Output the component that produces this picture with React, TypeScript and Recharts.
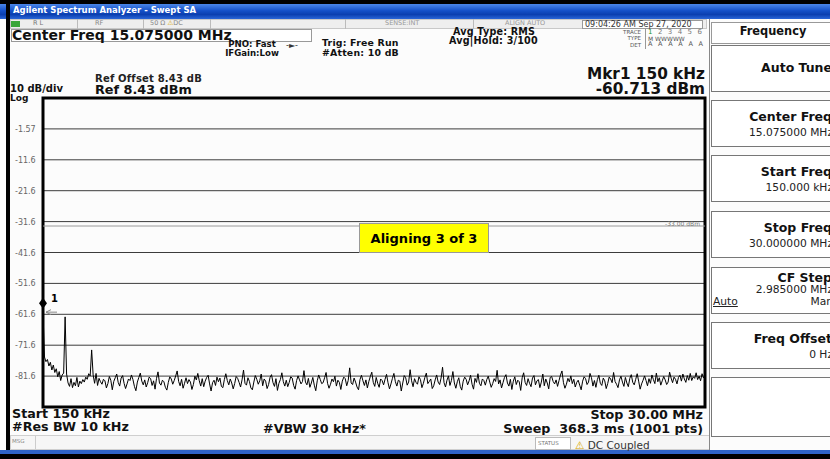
import React from "react";
import {
  LineChart,
  Line,
  XAxis,
  YAxis,
  CartesianGrid,
  ReferenceLine,
  ReferenceDot,
  ReferenceArea,
} from "recharts";

// Swept SA trace, 150 kHz .. 30 MHz (dBm)
const traceDbm = [
  -60.7, -75.4, -76.9, -76.2, -78.3, -77.1, -79.6, -78.0, -80.4, -79.2,
  -81.8, -80.1, -83.0, -81.2, -80.6, -62.4, -80.9, -83.8, -84.9, -82.4,
  -85.3, -83.6, -84.7, -82.0, -85.1, -83.2, -84.0, -82.7, -83.5, -81.9,
  -82.6, -80.8, -81.5, -73.1, -81.2, -83.9, -80.7, -84.6, -82.3, -83.4,
  -84.2, -82.6, -83.1, -85.4, -84.0, -81.7, -82.9, -86.0, -83.3, -82.1,
  -80.9, -83.6, -84.8, -82.2, -81.4, -83.9, -85.6, -84.1, -82.5, -83.0,
  -81.2, -82.7, -84.9, -86.3, -83.5, -82.0, -80.6, -83.2, -84.4, -82.8,
  -85.1, -83.7, -81.9, -82.4, -84.6, -83.1, -85.8, -82.3, -80.2, -83.8,
  -84.5, -82.9, -83.4, -85.2, -86.1, -83.6, -81.8, -82.5, -84.2, -83.0,
  -81.5, -79.9, -83.3, -84.7, -82.6, -85.5, -83.9, -82.1, -84.0, -82.7,
  -83.5, -85.9, -84.3, -81.6, -82.8, -80.7, -83.1, -84.8, -82.4, -85.0,
  -83.2, -82.0, -81.3, -84.1, -86.4, -83.7, -82.9, -84.6, -81.9, -83.4,
  -82.2, -84.9, -85.3, -82.7, -80.8, -83.0, -84.4, -82.5, -83.8, -85.7,
  -84.0, -81.7, -82.3, -83.6, -85.1, -82.8, -79.6, -83.9, -84.5, -82.1,
  -83.3, -85.4, -86.0, -83.5, -81.4, -82.6, -84.2, -83.1, -80.9, -84.7,
  -82.5, -83.2, -85.6, -84.3, -82.0, -81.1, -83.7, -84.9, -82.4, -86.2,
  -83.9, -82.7, -80.5, -83.4, -84.8, -82.9, -85.0, -83.6, -81.8, -82.2,
  -84.6, -85.8, -83.0, -81.5, -82.8, -84.1, -83.3, -79.8, -83.5, -84.4,
  -82.3, -85.2, -83.8, -82.0, -84.5, -86.3, -83.1, -81.2, -82.6, -84.0,
  -83.7, -82.1, -80.4, -83.9, -85.5, -84.2, -82.5, -83.4, -81.6, -84.8,
  -82.9, -83.6, -85.9, -83.2, -81.9, -82.4, -84.7, -83.0, -78.9, -83.8,
  -84.3, -82.2, -83.5, -85.1, -86.0, -82.7, -81.3, -83.1, -84.6, -82.8,
  -85.4, -83.3, -81.7, -80.3, -83.6, -84.9, -82.0, -83.9, -85.2, -82.5,
  -83.0, -84.4, -82.6, -81.0, -83.7, -85.7, -84.1, -82.3, -80.7, -83.4,
  -84.8, -82.9, -83.2, -86.4, -83.8, -81.4, -82.1, -84.5, -83.5, -79.5,
  -83.1, -85.0, -82.4, -83.6, -84.2, -81.8, -82.7, -85.3, -83.9, -82.0,
  -80.6, -84.0, -83.3, -82.5, -85.6, -84.7, -82.8, -81.2, -83.5, -84.3,
  -82.2, -78.7, -83.7, -85.1, -82.9, -81.5, -84.6, -83.0, -80.1, -83.8,
  -85.5, -83.4, -82.1, -84.9, -86.1, -83.2, -81.9, -82.6, -84.4, -83.1,
  -81.3, -84.2, -85.8, -82.3, -83.6, -80.8, -83.9, -84.7, -82.5, -83.0,
  -84.5, -82.7, -81.6, -83.5, -85.2, -84.0, -82.4, -83.3, -79.7, -84.1,
  -82.8, -85.4, -83.7, -82.0, -81.1, -83.8, -84.8, -82.6, -85.9, -83.2,
  -81.8, -84.3, -82.9, -83.4, -86.2, -82.1, -80.5, -83.6, -84.6, -82.4,
  -83.9, -85.0, -82.2, -81.4, -84.4, -83.1, -82.7, -85.3, -83.5, -80.9,
  -84.7, -82.5, -83.8, -85.7, -82.0, -81.7, -83.3, -84.1, -82.8, -84.9,
  -83.0, -81.2, -79.9, -83.7, -85.5, -84.2, -82.3, -83.4, -81.5, -84.0,
  -82.6, -85.1, -83.6, -82.9, -84.5, -86.0, -83.2, -81.8, -82.4, -84.3,
  -83.5, -80.7, -82.1, -84.8, -83.0, -85.2, -82.7, -81.3, -83.9, -84.6,
  -82.2, -83.1, -85.6, -84.0, -81.9, -82.5, -83.7, -80.4, -83.3, -84.2,
  -85.3, -82.8, -81.6, -83.5, -84.9, -82.0, -83.8, -85.0, -82.3, -81.1,
  -83.6, -84.4, -82.6, -80.8, -83.2, -85.8, -84.1, -82.9, -81.5, -83.0,
  -84.7, -82.4, -83.9, -81.2, -82.7, -84.0, -80.6, -83.4, -82.1, -84.5,
  -83.1, -81.7, -82.8, -84.3, -83.5, -80.3, -82.2, -83.7, -81.9, -82.6,
  -84.1, -82.0, -81.3, -83.2, -80.9, -82.5, -83.6, -81.4, -82.9, -80.7,
  -83.0, -81.8, -82.3, -80.5, -82.7, -81.6, -83.1, -80.8, -82.2, -81.5,
];
const startMHz = 0.15;
const stopMHz = 30;

const xTicks = [0.15, 3.135, 6.12, 9.105, 12.09, 15.075, 18.06, 21.045, 24.03, 27.015, 30];
const yTicks = [-1.57, -11.57, -21.57, -31.57, -41.57, -51.57, -61.57, -71.57, -81.57];
const yTickLabels = ["-1.57", "-11.6", "-21.6", "-31.6", "-41.6", "-51.6", "-61.6", "-71.6", "-81.6"];
const refLevel = 8.43;
const bottomLevel = -91.57;
const displayLine = -33;
const markerFreq = 0.15;
const markerDbm = -60.713;

const data = traceDbm.map((v, i) => ({
  f: startMHz + (i * (stopMHz - startMHz)) / (traceDbm.length - 1),
  dbm: v,
}));

const W = 830;
const H = 459;

// absolutely placed text; cy is the visual middle of the capitals
function T({ x, cy, s, w = 700, c = "#111", a = "start", children, style }: any) {
  const pos =
    a === "end"
      ? { right: W - x }
      : a === "middle"
      ? { left: x, transform: "translateX(-50%)" }
      : { left: x };
  const lh = s * 0.9;
  return (
    <div
      style={{
        position: "absolute",
        top: cy - s * 0.5,
        fontSize: s,
        fontWeight: w,
        color: c,
        lineHeight: `${lh}px`,
        whiteSpace: "nowrap",
        ...pos,
        ...style,
      }}
    >
      {children}
    </div>
  );
}

function Box({ x, y, w, h, bg = "#fff", border = "1px solid #888", style }: any) {
  return (
    <div
      style={{
        position: "absolute",
        left: x,
        top: y,
        width: w,
        height: h,
        background: bg,
        border,
        boxSizing: "border-box",
        ...style,
      }}
    />
  );
}

function YTick(props: any) {
  const { y, payload } = props;
  const label = yTickLabels[yTicks.indexOf(payload.value)] ?? "";
  return (
    <text x={15} y={y} dy={3} fontSize={8} fill="#666">
      {label}
    </text>
  );
}

function MarkerShape(props: any) {
  const { cx, cy } = props;
  if (cx == null || cy == null) return null;
  return (
    <g>
      <polygon
        points={`${cx},${cy - 14} ${cx + 4},${cy - 8.5} ${cx},${cy - 3} ${cx - 4},${cy - 8.5}`}
        fill="#000"
      />
      <text x={cx + 8} y={cy - 10} fontSize={10} fontWeight={700} fill="#000">
        1
      </text>
      <line x1={cx + 3} y1={cy + 0.5} x2={cx + 14} y2={cy + 0.5} stroke="#888" />
      <polyline
        points={`${cx + 8},${cy - 2} ${cx + 3},${cy + 0.5} ${cx + 8},${cy + 3}`}
        fill="none"
        stroke="#888"
      />
    </g>
  );
}

function SoftKey({ top, title, value, children }: any) {
  return (
    <>
      <Box x={711} y={top} w={125} h={47} border="1px solid #777" />
      <T x={832} cy={value ? top + 17 : top + 23} s={12.5} w={700} a="end">
        {title}
      </T>
      {value && (
        <T x={833} cy={top + 33} s={10.7} w={400} c="#222" a="end">
          {value}
        </T>
      )}
      {children}
    </>
  );
}

export default function App() {
  return (
    <div
      style={{
        position: "absolute",
        left: 0,
        top: 0,
        width: W,
        height: H,
        overflow: "hidden",
        background: "#fcfcfc",
        fontFamily: "'DejaVu Sans', Verdana, sans-serif",
      }}
    >
      {/* window chrome */}
      <Box x={0} y={0} w={W} h={4} bg="#000" border="none" />
      <Box
        x={0}
        y={4}
        w={W}
        h={15}
        border="none"
        bg="linear-gradient(#4a86e8, #1450c8 45%, #0b3fb0 70%, #2a66d8)"
      />
      <Box x={6} y={0} w={4} h={H} bg="#000" border="none" />
      <Box x={0} y={450} w={W} h={4} bg="#2f64c8" border="none" />
      <Box x={0} y={454} w={W} h={5} bg="#000" border="none" />
      <T x={13} cy={11} s={8.5} c="#fff">
        Agilent Spectrum Analyzer - Swept SA
      </T>

      {/* status row */}
      <Box x={10} y={19} w={697} h={10} bg="#eeeeee" border="1px solid #c8c8c8" />
      <Box x={11} y={21} w={9} h={6} bg="#3aa63a" border="none" />
      <T x={33} cy={24} s={6.5} w={400} c="#777">R L</T>
      <Box x={77} y={19} w={1} h={10} bg="#bbb" border="none" />
      <T x={95} cy={24} s={6.5} w={400} c="#888">RF</T>
      <Box x={143} y={19} w={1} h={10} bg="#bbb" border="none" />
      <T x={150} cy={24} s={6.5} w={400} c="#888">
        50 Ω <span style={{ color: "#d8a800" }}>⚠</span>DC
      </T>
      <Box x={210} y={19} w={1} h={10} bg="#bbb" border="none" />
      <Box x={345} y={19} w={1} h={10} bg="#bbb" border="none" />
      <T x={385} cy={24} s={6.5} w={400} c="#999">SENSE:INT</T>
      <Box x={473} y={19} w={1} h={10} bg="#bbb" border="none" />
      <T x={505} cy={24} s={6.5} w={400} c="#999">ALIGN AUTO</T>
      <Box x={582} y={20} w={121} h={9} bg="#fff" border="1px solid #999" />
      <T x={585} cy={24.5} s={8} w={400} c="#333">09:04:26 AM Sep 27, 2020</T>

      {/* header */}
      <Box x={11} y={29} w={301} h={13} bg="#fff" border="1px solid #999" />
      <T x={12} cy={35.5} s={14} w={700}>Center Freq 15.075000 MHz</T>
      <T x={252} cy={45.5} s={8.6} a="middle">PNO: Fast</T>
      <T x={252} cy={54.5} s={8.6} a="middle">IFGain:Low</T>
      <T x={286} cy={45.5} s={8} w={400} c="#333">-►-</T>
      <T x={322} cy={44} s={9.4} style={{ letterSpacing: 0.2 }}>Trig: Free Run</T>
      <T x={322} cy={53.5} s={9.4} style={{ letterSpacing: 0.2 }}>#Atten: 10 dB</T>
      <T x={453} cy={32.5} s={9.6} style={{ letterSpacing: 0.2 }}>Avg Type: RMS</T>
      <T x={449} cy={42} s={9.6} style={{ letterSpacing: 0.2 }}>Avg|Hold: 3/100</T>
      <T x={641} cy={32.5} s={5.5} w={400} c="#555" a="end">TRACE</T>
      <T x={641} cy={39} s={5.5} w={400} c="#555" a="end">TYPE</T>
      <T x={641} cy={45.5} s={5.5} w={400} c="#555" a="end">DET</T>
      <Box x={645} y={28} w={1} h={21} bg="#999" border="none" />
      <T x={648} cy={32.5} s={7} w={400} c="#777" style={{ letterSpacing: 1.6 }}>
        <span style={{ color: "#2a9a2a" }}>1</span> 2 3 4 5 6
      </T>
      <T x={648} cy={39} s={6} w={400} c="#555">
        M WWWWW
      </T>
      <T x={648} cy={45.5} s={6.5} w={400} c="#555" style={{ letterSpacing: 1.8 }}>
        A A A A A A
      </T>
      <T x={705} cy={76} s={15.3} a="end">Mkr1 150 kHz</T>
      <T x={705} cy={90.5} s={15.3} a="end">-60.713 dBm</T>
      <T x={95} cy={79} s={10} c="#222" style={{ letterSpacing: 0.2 }}>
        Ref Offset 8.43 dB
      </T>
      <T x={95} cy={90.5} s={12.8}>Ref 8.43 dBm</T>
      <T x={10} cy={89} s={10}>10 dB/div</T>
      <T x={10} cy={98.5} s={9}>Log</T>

      {/* the trace */}
      <div style={{ position: "absolute", left: 0, top: 0 }}>
        <LineChart
          width={W}
          height={H}
          data={data}
          margin={{ top: 98, right: 125, bottom: 0, left: 0 }}
        >
          <CartesianGrid stroke="#3c3c3c" strokeWidth={1} />
          <XAxis
            type="number"
            dataKey="f"
            domain={[startMHz, stopMHz]}
            ticks={xTicks}
            tick={false}
            tickLine={false}
            axisLine={false}
            height={52}
            allowDataOverflow
          />
          <YAxis
            type="number"
            domain={[bottomLevel, refLevel]}
            ticks={yTicks}
            tick={<YTick />}
            tickLine={false}
            axisLine={false}
            width={43}
            allowDataOverflow
          />
          <ReferenceLine
            y={displayLine}
            stroke="#9a9a9a"
            strokeWidth={1}
            label={{ value: "-33.00 dBm", position: "insideRight", fontSize: 6, fill: "#777", dy: -2 }}
          />
          <Line
            type="linear"
            dataKey="dbm"
            stroke="#000"
            strokeWidth={1}
            dot={false}
            isAnimationActive={false}
          />
          <ReferenceArea
            x1={startMHz}
            x2={stopMHz}
            y1={bottomLevel}
            y2={refLevel}
            fill="none"
            stroke="#000"
            strokeWidth={3}
            fillOpacity={0}
          />
          <ReferenceDot
            x={markerFreq}
            y={markerDbm}
            r={3}
            ifOverflow="visible"
            shape={(p: any) => <MarkerShape {...p} />}
          />
        </LineChart>
      </div>

      {/* alignment popup */}
      <div
        style={{
          position: "absolute",
          left: 359,
          top: 223,
          width: 130,
          height: 30,
          background: "#ffff00",
          border: "1px solid #999",
          boxSizing: "border-box",
          display: "flex",
          alignItems: "center",
          justifyContent: "center",
          fontSize: 13,
          fontWeight: 700,
        }}
      >
        Aligning 3 of 3
      </div>

      {/* footer */}
      <T x={12} cy={414} s={12.7}>Start 150 kHz</T>
      <T x={12} cy={427} s={12.7}>#Res BW 10 kHz</T>
      <T x={263} cy={429} s={12.7}>#VBW 30 kHz*</T>
      <T x={703} cy={415} s={12.7} a="end">Stop 30.00 MHz</T>
      <T x={703} cy={429} s={12.7} a="end" style={{ whiteSpace: "pre" }}>
        Sweep  368.3 ms (1001 pts)
      </T>

      {/* message bar */}
      <Box x={10} y={435} w={700} h={15} bg="#f6f6f6" border="1px solid #cfcfcf" />
      <Box x={35} y={436} w={1} h={13} bg="#ccc" border="none" />
      <T x={12} cy={442} s={5.5} w={400} c="#888">MSG</T>
      <Box x={535} y={437} w={36} h={13} bg="#fff" border="1px solid #bbb" />
      <T x={538} cy={443.5} s={5.5} w={400} c="#777">STATUS</T>
      <T x={575} cy={446} s={10.5} w={400} c="#333">
        <span style={{ color: "#d8a800", fontWeight: 700 }}>⚠</span> DC Coupled
      </T>

      {/* softkey panel */}
      <Box x={709} y={19} w={1} h={431} bg="#888" border="none" />
      <Box x={711} y={22} w={125} h={22} border="1px solid #999" />
      <T x={773} cy={32} s={11.4} a="middle">Frequency</T>
      <SoftKey top={45} title="Auto Tune" />
      <SoftKey top={100} title="Center Freq" value="15.075000 MHz" />
      <SoftKey top={155} title="Start Freq" value="150.000 kHz" />
      <SoftKey top={211} title="Stop Freq" value="30.000000 MHz" />
      <Box x={711} y={267} w={125} h={47} border="1px solid #777" />
      <T x={832} cy={278} s={12.5} a="end">CF Step</T>
      <T x={833} cy={290} s={10.7} w={400} c="#222" a="end">2.985000 MHz</T>
      <T x={713} cy={302} s={10.7} w={400} c="#222" style={{ textDecoration: "underline" }}>
        Auto
      </T>
      <T x={833} cy={302} s={10.7} w={400} c="#222" a="end">Man</T>
      <SoftKey top={322} title="Freq Offset" value="0 Hz" />
      <Box x={711} y={377} w={125} h={60} border="1px solid #777" />
    </div>
  );
}
